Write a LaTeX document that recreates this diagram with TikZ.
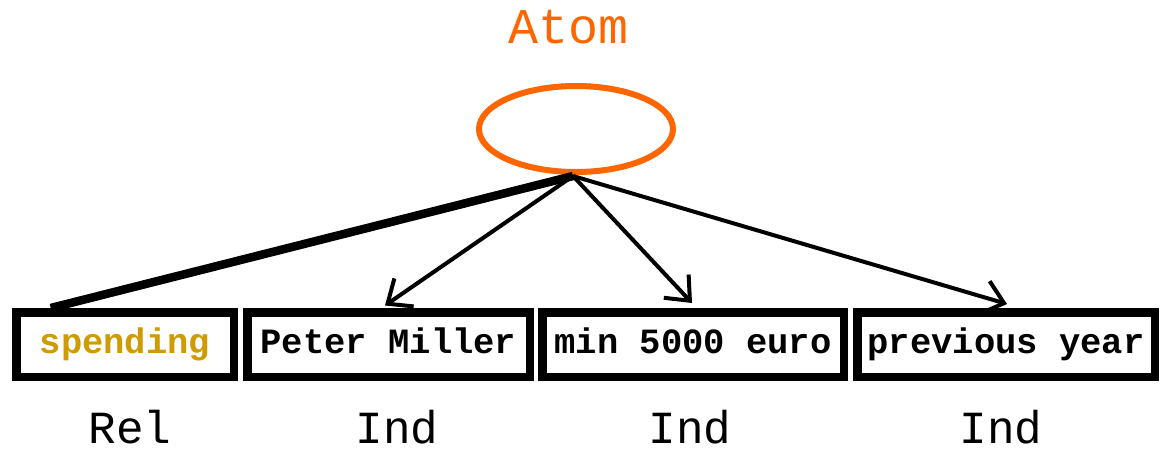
\documentclass[tikz,border=0pt]{standalone}
\usepackage{fontspec}
\newfontfamily\cour{Liberation Mono}
\usetikzlibrary{shapes.geometric,arrows.meta}
\definecolor{atomorange}{RGB}{255,102,0}
\definecolor{relgold}{RGB}{208,155,0}
\tikzset{
  termbox/.style={draw=black, line width=8.5pt, fill=white, inner sep=0pt,
    minimum height=64.5pt, text height=22pt, text depth=5pt,
    font=\cour\bfseries\fontsize{35.5pt}{36pt}\selectfont},
  kindlabel/.style={font=\cour\fontsize{46pt}{47pt}\selectfont, inner sep=0pt,
    anchor=base, text depth=0pt},
  arr/.style={line width=4pt, -{Straight Barb[length=20pt, width=34pt, line width=4pt]}},
  relline/.style={line width=8.5pt}
}
\begin{document}
\begin{tikzpicture}[x=1pt, y=-1pt]
  \useasboundingbox (0,0) rectangle (1166,451);

  % title and the atom ellipse
  \node[font=\cour\fontsize{50pt}{50pt}\selectfont, text=atomorange, inner sep=0pt] (title) at (569,27) {Atom};
  \node[ellipse, draw=atomorange, line width=6pt, minimum width=194pt, minimum height=86pt, inner sep=0pt] (atom) at (576,129) {};
  \coordinate (apex) at (573,176);

  % the four term boxes
  \node[termbox, minimum width=217.5pt, text=relgold] (b1) at (125,344.5) {spending};
  \node[termbox, minimum width=282.5pt] (b2) at (388.5,344.5) {Peter Miller};
  \node[termbox, minimum width=301.5pt] (b3) at (693,344.5) {min 5000 euro};
  \node[termbox, minimum width=297.5pt] (b4) at (1006,344.5) {previous year};

  % kind labels
  \node[kindlabel] (k1) at (130,443) {Rel};
  \node[kindlabel] (k2) at (397,443) {Ind};
  \node[kindlabel] (k3) at (690,443) {Ind};
  \node[kindlabel] (k4) at (1001,443) {Ind};

  % connectors
  \draw[relline] (apex) -- ([xshift=38.75pt]b1.north west);
  \draw[arr] (apex) -- ([xshift=-3.5pt, yshift=2.5pt]b2.north);
  \draw[arr] (apex) -- ([xshift=-1pt, yshift=5pt]b3.north);
  \draw[arr] (apex) -- ([xshift=1pt, yshift=4pt]b4.north);
\end{tikzpicture}
\end{document}
